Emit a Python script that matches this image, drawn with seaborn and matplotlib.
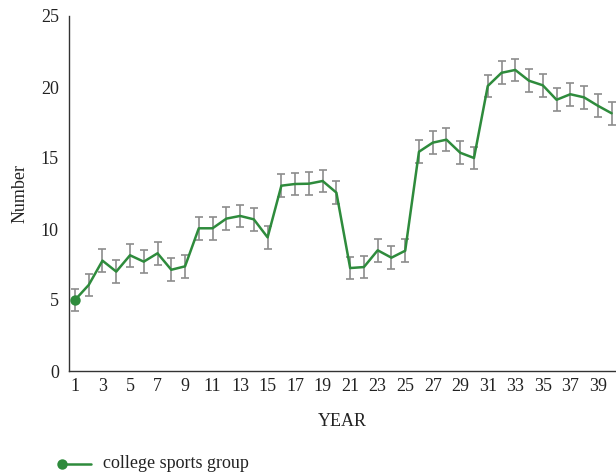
import matplotlib
matplotlib.use("Agg")
import matplotlib.pyplot as plt
from matplotlib.lines import Line2D
import seaborn as sns
import pandas as pd

# Yearly counts for the college sports group, with fixed-width error bars
years = list(range(1, 41))
values = [5.0, 6.06, 7.77, 7.0, 8.15, 7.7, 8.29, 7.13, 7.37, 10.05,
          10.05, 10.73, 10.92, 10.68, 9.41, 13.05, 13.17, 13.19, 13.38, 12.56,
          7.25, 7.32, 8.5, 7.98, 8.47, 15.44, 16.08, 16.29, 15.37, 15.0,
          20.07, 21.0, 21.2, 20.44, 20.12, 19.1, 19.49, 19.27, 18.68, 18.15]
errors = [0.8] * len(values)
x_ticks = list(range(1, 40, 2))
y_ticks = [0, 5, 10, 15, 20, 25]
series_name = "college sports group"

df = pd.DataFrame({"YEAR": years, "Number": values, "err": errors})

sns.set_theme(style="white")
plt.rcParams["font.family"] = ["Liberation Serif", "DejaVu Serif"]

green = "#2e8b3c"
grey = "#8c8c8c"
txt = "#222222"
fs = 13

fig = plt.figure(figsize=(6.16, 4.76), dpi=100)
ax = fig.add_axes([68.5 / 616, 105 / 476, (616 - 68.5) / 616, 355 / 476])

ax.errorbar(df["YEAR"], df["Number"], yerr=df["err"], fmt="none",
            ecolor=grey, elinewidth=1.2, capsize=3.2, capthick=1.2, zorder=2)
sns.lineplot(data=df, x="YEAR", y="Number", ax=ax, color=green, linewidth=1.8,
             marker="o", markersize=7.5, markevery=[0], markeredgewidth=0,
             zorder=3)

ax.set_xlim(0.53, 40.32)
ax.set_ylim(0, 25)
ax.set_xticks(x_ticks)
ax.set_yticks(y_ticks)
ax.tick_params(axis="both", length=0, labelsize=fs, colors=txt)
ax.tick_params(axis="y", pad=7)
ax.tick_params(axis="x", pad=5)
ax.set_xlabel("YEAR", fontsize=fs, color=txt, labelpad=13)
ax.set_ylabel("Number", fontsize=fs, color=txt, labelpad=9)

for side in ("top", "right"):
    ax.spines[side].set_visible(False)
for side in ("left", "bottom"):
    ax.spines[side].set_color("#333333")
    ax.spines[side].set_linewidth(1.0)

# Legend entry: marker at the left end of a short line
ly = 1 - 464 / 476
fig.add_artist(Line2D([62 / 616, 91 / 616], [ly, ly], color=green, linewidth=1.8,
                      marker="o", markersize=7.5, markevery=[0], markeredgewidth=0,
                      transform=fig.transFigure))
fig.text(103 / 616, ly, series_name, va="center", ha="left", fontsize=fs,
         color=txt)

fig.savefig("out.png", dpi=100)
